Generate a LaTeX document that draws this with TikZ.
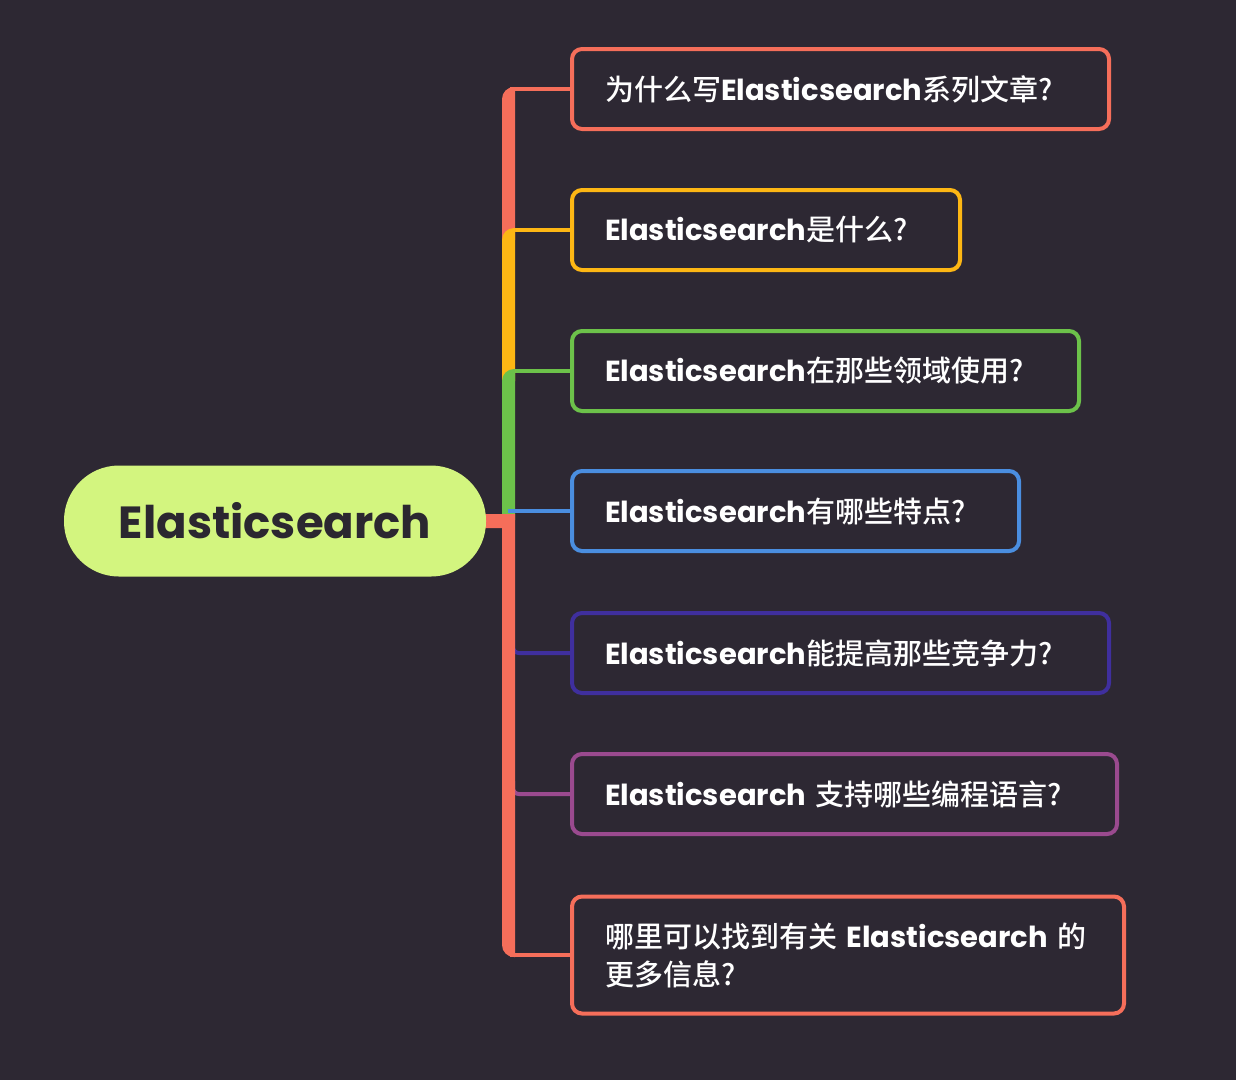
\documentclass[tikz,border=0pt]{standalone}
\usepackage{fontspec}
\setmainfont{Poppins}
\newfontfamily\cjk{Noto Sans CJK SC}[UprightFont={* Medium}]
\usetikzlibrary{positioning}
\usetikzlibrary{backgrounds}

\definecolor{bgcol}{HTML}{2D2833}
\definecolor{cRed}{HTML}{F56E5A}
\definecolor{cYel}{HTML}{FDB714}
\definecolor{cGrn}{HTML}{6CC24A}
\definecolor{cBlue}{HTML}{4A8EE0}
\definecolor{cInd}{HTML}{3F2F9E}
\definecolor{cPur}{HTML}{9A4A8F}
\definecolor{cLime}{HTML}{D3F57F}
\definecolor{cDark}{HTML}{2B2730}

\newcommand\zh[1]{{\cjk\mdseries #1}}

\tikzset{
  qbox/.style={draw, line width=4pt, rounded corners=10pt, fill=bgcol, text=white,
    anchor=west, minimum height=80pt, inner xsep=33pt, inner ysep=0pt, align=left,
    font=\fontsize{29}{38}\selectfont\bfseries},
  branch/.style={line width=4pt},
  rootbox/.style={fill=cLime, text=cDark, rounded corners=55pt, minimum width=422pt,
    minimum height=111pt, font=\fontsize{45}{50}\selectfont\bfseries}
}

\begin{document}
\begin{tikzpicture}[x=1pt,y=-1pt]
  \useasboundingbox (0,0) rectangle (1236,1080);
  % centre
  \node[rootbox] (root) at (275,521) {Elasticsearch};
  % questions
  \node[qbox, draw=cRed, text width=471pt] (q1) at (570,89) {\zh{为什么写}Elasticsearch\zh{系列文章?}};
  \node[qbox, draw=cYel, text width=322pt] (q2) at (570,230) {Elasticsearch\zh{是什么?}};
  \node[qbox, draw=cGrn, text width=441pt] (q3) at (570,371) {Elasticsearch\zh{在那些领域使用?}};
  \node[qbox, draw=cBlue, text width=381pt] (q4) at (570,511) {Elasticsearch\zh{有哪些特点?}};
  \node[qbox, draw=cInd, text width=471pt] (q5) at (570,653) {Elasticsearch\zh{能提高那些竞争力?}};
  \node[qbox, draw=cPur, text width=479pt] (q6) at (570,794) {Elasticsearch \zh{支持哪些编程语言?}};
  \node[qbox, draw=cRed, text width=486pt, minimum height=117pt] (q7) at (570,955)
    {\zh{哪里可以找到有关} Elasticsearch \zh{的}\\\zh{更多信息?}};

  \coordinate (b1) at (510,89);
  \coordinate (b2) at (510,230);
  \coordinate (b3) at (510,371);
  \coordinate (b4) at (508,511);
  \coordinate (b5) at (513,640);
  \coordinate (b6) at (513,781);
  \coordinate (b7) at (510,955);

  \begin{scope}[on background layer]
    \fill[bgcol] (0,0) rectangle (1236,1080);
    % thin branches
    \draw[branch, cRed] (b1) -- (q1.west);
    \draw[branch, cYel] (b2) -- (q2.west);
    \draw[branch, cGrn] (b3) -- (q3.west);
    \draw[branch, cInd, rounded corners=6pt] (b5) |- (q5.west);
    \draw[branch, cPur, rounded corners=6pt] (b6) |- (q6.west);
    \draw[branch, cRed] (b7) -- (q7.west);
    % trunk
    \fill[cRed] (502,240) -- (502,99) arc[start angle=180, end angle=270, radius=12]
      -- (515,87) -- (515,240) -- cycle;
    \fill[cYel] (502,381) -- (502,240) arc[start angle=180, end angle=270, radius=12]
      -- (515,228) -- (515,381) -- cycle;
    \fill[cGrn] (502,520) -- (502,381) arc[start angle=180, end angle=270, radius=12]
      -- (515,369) -- (515,520) -- cycle;
    \fill[cRed] (470,514) -- (515,514) -- (515,957) -- (514,957)
      arc[start angle=90, end angle=180, radius=12] -- (502,528) -- (470,528) -- cycle;
    \draw[branch, cBlue] (b4) -- (q4.west);
  \end{scope}
\end{tikzpicture}
\end{document}
